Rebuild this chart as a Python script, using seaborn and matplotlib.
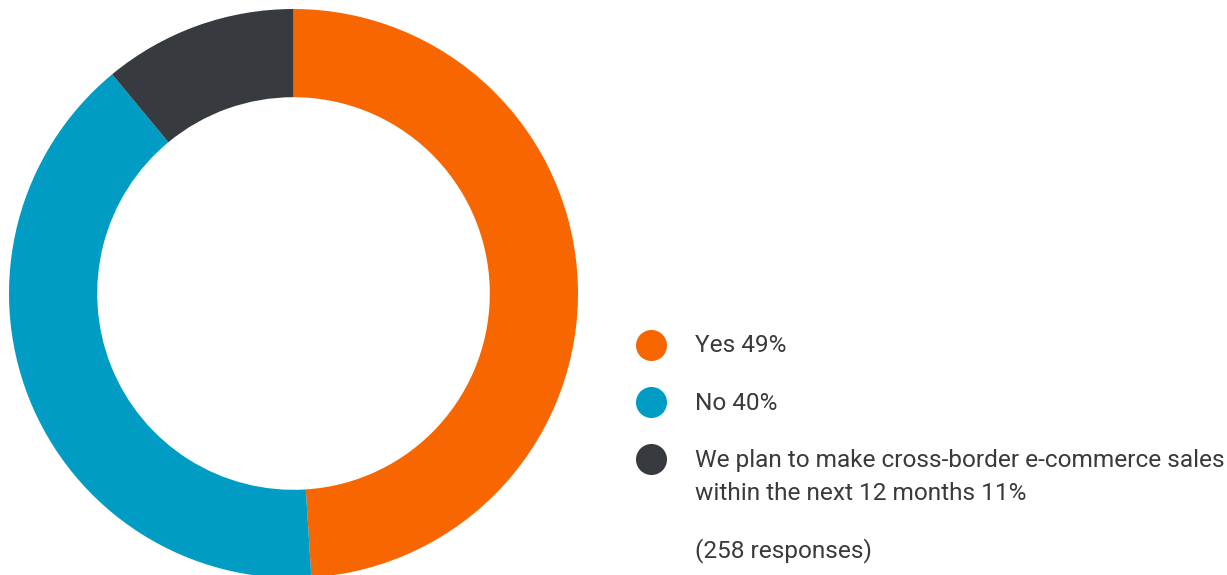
import matplotlib
matplotlib.use("Agg")
import matplotlib.pyplot as plt
import seaborn as sns

sns.set_theme(style="white")
plt.rcParams['font.family'] = ['Roboto', 'DejaVu Sans']

categories = ["Yes", "No", "We plan to make cross-border e-commerce sales\nwithin the next 12 months"]
values = [49, 40, 11]
colors = ["#F76600", "#009CC4", "#373B3F"]
note = "(258 responses)"

W, H = 1227, 575
fig = plt.figure(figsize=(W / 100, H / 100), dpi=100)
fig.patch.set_facecolor("white")

cx, cy, r = 293.5, 293.5, 284.5
ax = fig.add_axes([(cx - r) / W, (H - cy - r) / H, 2 * r / W, 2 * r / H])
ax.pie(values, colors=colors, startangle=90, counterclock=False,
       radius=1.0, wedgeprops=dict(width=0.31, linewidth=0, edgecolor="none"))
ax.set_xlim(-1, 1)
ax.set_ylim(-1, 1)
ax.set_aspect("equal")
ax.axis("off")

# legend area in pixel coordinates
lax = fig.add_axes([0, 0, 1, 1], facecolor="none")
lax.set_xlim(0, W)
lax.set_ylim(H, 0)
lax.axis("off")
ys = [345, 402, 459]
txt = dict(fontsize=17.6, color="#3A3A3A", ha="left", va="center")
for cat, val, col, y in zip(categories, values, colors, ys):
    lax.scatter([651], [y], s=500, color=col, linewidths=0)
    lines = f"{cat} {val}%".split("\n")
    for i, line in enumerate(lines):
        lax.text(695, y + 1 + i * 34, line, **txt)
lax.text(695, 551, note, **txt)

fig.savefig("out.png", dpi=100, facecolor="white")
